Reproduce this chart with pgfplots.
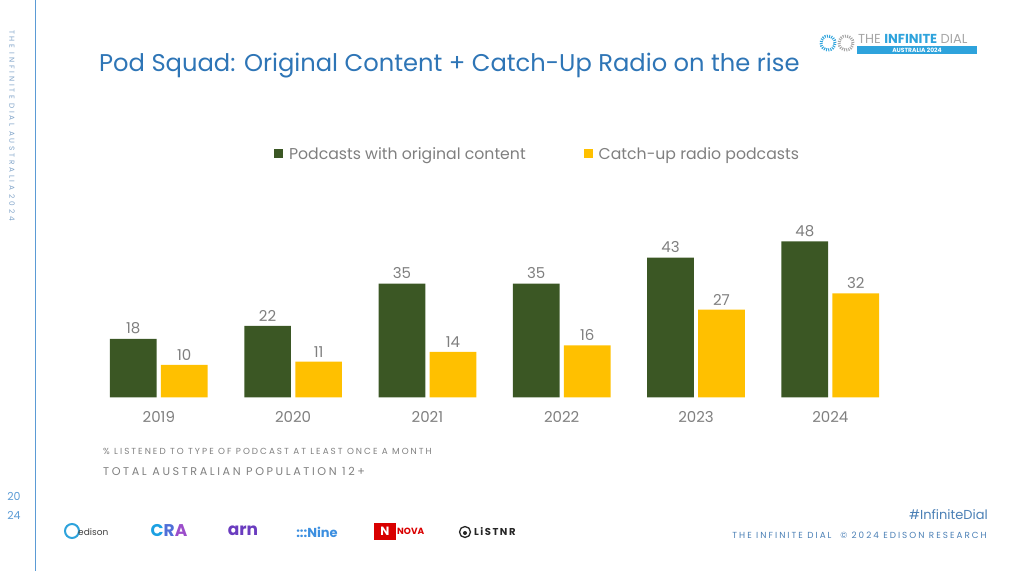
\documentclass[border=0pt]{standalone}
\usepackage{fontspec}
\setmainfont{Poppins}
\usepackage{pgfplots}
\pgfplotsset{compat=1.18}
\definecolor{pgreen}{HTML}{3B5724}
\definecolor{pyellow}{HTML}{FFC000}
\definecolor{lblgray}{HTML}{7F7F7F}
\definecolor{titleblue}{HTML}{2E75B6}
\definecolor{lineblue}{HTML}{5B9BD5}
\definecolor{sideblue}{HTML}{7FA3C8}
\definecolor{logoblue}{HTML}{2EA3DC}
\definecolor{logogray}{HTML}{A6A6A6}
\definecolor{footblue}{HTML}{4A7FB5}
\begin{document}
\begin{tikzpicture}
\path[use as bounding box] (0,0) rectangle (1017pt,571pt);
% left decoration
\draw[lineblue, line width=1pt] (35pt,571pt) -- (35pt,0pt);
\node[rotate=-90, anchor=west, inner sep=0pt, text=sideblue, font=\fontsize{7.3}{8}\selectfont\addfontfeatures{LetterSpace=37}] at (12pt,541pt) {THE INFINITE DIAL AUSTRALIA 2024};
\node[anchor=center, inner sep=0pt, text=lineblue, font=\fontsize{11}{12}\selectfont] at (14pt,75pt) {20};
\node[anchor=center, inner sep=0pt, text=lineblue, font=\fontsize{11}{12}\selectfont] at (14pt,56pt) {24};
% title
\node[anchor=base west, inner sep=0pt, text=titleblue, font=\fontsize{24.2}{28}\selectfont] at (99pt,499pt) {Pod Squad: Original Content + Catch-Up Radio on the rise};
% top-right logo
\draw[logoblue, line width=3pt, dash pattern=on 1pt off 1.2pt] (828pt,528pt) circle (7pt);
\draw[logogray, line width=3pt, dash pattern=on 1pt off 1.2pt] (846pt,528pt) circle (7pt);
\node[anchor=base west, inner sep=0pt, font=\fontsize{13}{14}\selectfont] at (858pt,527pt) {\textcolor{logogray}{THE}\ \textcolor{logoblue}{\bfseries INFINITE}\ \textcolor{logogray}{DIAL}};
\fill[logoblue] (857pt,517pt) rectangle (977pt,525pt);
\node[anchor=center, inner sep=0pt, text=white, font=\fontsize{6}{6}\selectfont\bfseries] at (917pt,521pt) {AUSTRALIA 2024};
% footnotes
\node[anchor=base west, inner sep=0pt, text=lblgray, font=\fontsize{8.8}{9}\selectfont\addfontfeatures{LetterSpace=23}] at (103pt,117pt) {\% LISTENED TO TYPE OF PODCAST AT LEAST ONCE A MONTH};
\node[anchor=base west, inner sep=0pt, text=lblgray, font=\fontsize{11.2}{12}\selectfont\addfontfeatures{LetterSpace=23}] at (103pt,96pt) {TOTAL AUSTRALIAN POPULATION 12+};
\node[anchor=base east, inner sep=0pt, text=footblue, font=\fontsize{13}{14}\selectfont] at (988pt,52pt) {\#InfiniteDial};
\node[anchor=base east, inner sep=0pt, text=footblue, font=\fontsize{8.8}{9}\selectfont\addfontfeatures{LetterSpace=23}] at (987pt,33pt) {THE INFINITE DIAL \ \textcopyright{} 2024 EDISON RESEARCH};
% partner logos
\draw[logoblue, line width=2pt] (72pt,40pt) circle (7pt);
\node[anchor=west, inner sep=0pt, text=black!75, font=\fontsize{9}{10}\selectfont] at (78pt,39pt) {edison};
\node[anchor=center, inner sep=0pt, font=\fontsize{17}{18}\selectfont\bfseries] at (169pt,40pt) {\textcolor[HTML]{1BA0E2}{C}\textcolor[HTML]{4F6FD8}{R}\textcolor[HTML]{9B4DCA}{A}};
\node[anchor=center, inner sep=0pt, text={rgb,255:red,106;green,60;blue,191}, font=\fontsize{17}{18}\selectfont\bfseries] at (243pt,40pt) {arn};
\node[anchor=center, inner sep=0pt, text={rgb,255:red,60;green,143;blue,224}, font=\fontsize{13}{14}\selectfont\bfseries] at (317pt,39pt) {:::Nine};
\fill[red!85!black] (374pt,31pt) rectangle (396pt,48pt);
\node[anchor=center, inner sep=0pt, text=white, font=\fontsize{12}{13}\selectfont\bfseries] at (385pt,39.5pt) {N};
\node[anchor=west, inner sep=0pt, text=red!85!black, font=\fontsize{9}{10}\selectfont\bfseries] at (397pt,40pt) {NOVA};
\draw[black!85, line width=1.3pt] (465pt,39pt) circle (5.5pt);
\fill[black!85] (465pt,38pt) circle (2pt);
\node[anchor=west, inner sep=0pt, text=black!85, font=\fontsize{10}{11}\selectfont\bfseries\addfontfeatures{LetterSpace=15}] at (474pt,39pt) {LiSTNR};
% chart
\begin{axis}[
  at={(158.8pt,173.7pt)}, anchor=origin,
  x=134.3pt, y=3.25pt,
  xmin=-0.6, xmax=5.6, ymin=0, ymax=55,
  clip=false,
  axis line style={draw=none},
  ytick=\empty,
  xtick={0,1,2,3,4,5},
  xticklabels={2019,2020,2021,2022,2023,2024},
  major tick length=0pt,
  xticklabel style={text=lblgray, font=\fontsize{15}{16}\selectfont, yshift=-11pt},
  ybar, bar width=46.7pt,
  /pgf/number format/assume math mode=true,
  nodes near coords,
  every node near coord/.append style={text=lblgray, font=\fontsize{15}{16}\selectfont, yshift=1pt},
  legend columns=2,
  legend style={at={(axis cs:2.82,74.8)}, anchor=center, draw=none, fill=none,
    font=\fontsize{15.7}{16}\selectfont, text=lblgray,
    /tikz/every odd column/.append style={column sep=4pt},
    /tikz/every even column/.append style={column sep=56pt}},
  legend image code/.code={\fill[#1] (0pt,-4pt) rectangle (9pt,5pt);},
]
\addplot[fill=pgreen, draw=none, bar shift=-25.5pt] coordinates {(0,18) (1,22) (2,35) (3,35) (4,43) (5,48)};
\addplot[fill=pyellow, draw=none, bar shift=25.5pt] coordinates {(0,10) (1,11) (2,14) (3,16) (4,27) (5,32)};
\legend{Podcasts with original content, Catch-up radio podcasts}
\end{axis}
\end{tikzpicture}
\end{document}
